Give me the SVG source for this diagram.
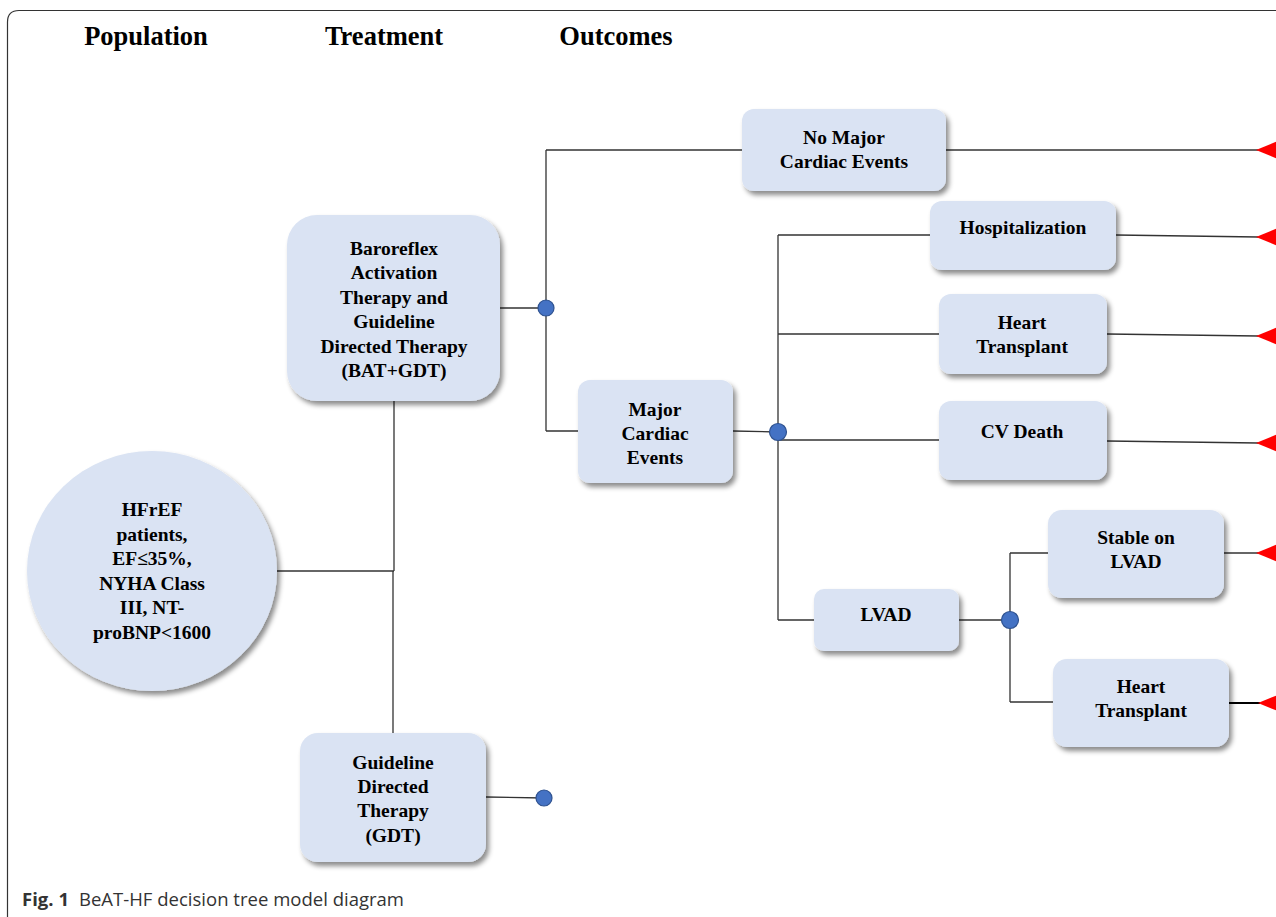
<svg xmlns="http://www.w3.org/2000/svg" width="1276" height="917" viewBox="0 0 1276 917">
<defs>
<filter id="sh" x="-20%" y="-20%" width="150%" height="150%">
<feDropShadow dx="3" dy="4" stdDeviation="2.5" flood-color="#000" flood-opacity="0.45"/>
</filter>
<style>
.box{fill:#dae3f3;filter:url(#sh);}
.t{font-family:"Liberation Serif","Times New Roman",serif;font-weight:bold;font-size:19.5px;fill:#000;text-anchor:middle;}
.h{font-family:"Liberation Serif","Times New Roman",serif;font-weight:bold;font-size:26.5px;fill:#000;text-anchor:middle;}
.ln{stroke:#333;stroke-width:1.3;fill:none;}
.ch{fill:#4472c4;stroke:#2f528f;stroke-width:1.2;}
.tri{fill:#ff0000;}
</style>
</defs>
<rect width="1276" height="917" fill="#fff"/>
<path d="M7.5,917 V22 Q7.5,10.5 19,10.5 H1276" fill="none" stroke="#333" stroke-width="1.2"/>

<g id="headers">
<text class="h" x="146" y="45">Population</text>
<text class="h" x="384" y="45">Treatment</text>
<text class="h" x="616" y="45">Outcomes</text>
</g>

<g id="connectors">
<path class="ln" d="M277,571 H394"/>
<path class="ln" d="M394,401 V571 M393,571 V733"/>
<path class="ln" d="M500,308 H546"/>
<path class="ln" d="M546,150 V431 M546,150 H742 M546,431 H578"/>
<path class="ln" d="M733,431 L778,432"/>
<path class="ln" d="M778,235 V620 M778,235 H930 M778,334 H939 M778,440 H939 M778,620 H814"/>
<path class="ln" d="M959,620 H1010"/>
<path class="ln" d="M1010,553 V702 M1010,553 H1048 M1010,702 H1053"/>
<path class="ln" d="M486,797 L544,798"/>
<path class="ln" d="M946,150 L1258,150"/>
<path class="ln" d="M1116,235 L1258,237"/>
<path class="ln" d="M1107,334 L1258,336"/>
<path class="ln" d="M1107,441 L1258,443"/>
<path class="ln" d="M1224,553 L1258,553"/>
<path d="M1229,703 L1260,703" stroke="#000" stroke-width="2" fill="none"/>
<polygon class="tri" points="1256,150 1278,141 1278,159"/>
<polygon class="tri" points="1256,237 1278,228 1278,246"/>
<polygon class="tri" points="1256,336 1278,327 1278,345"/>
<polygon class="tri" points="1256,443 1278,434 1278,452"/>
<polygon class="tri" points="1256,553 1278,544 1278,562"/>
<polygon class="tri" points="1258,703 1280,694 1280,712"/>
</g>

<g id="chance-nodes">
<circle class="ch" cx="546" cy="308" r="8"/>
<circle class="ch" cx="778" cy="432" r="8.5"/>
<circle class="ch" cx="1010" cy="620" r="8.5"/>
<circle class="ch" cx="544" cy="798" r="8"/>
</g>

<g id="population">
<ellipse class="box" cx="152" cy="571" rx="125" ry="120"/>
<text class="t" x="152" y="516">HFrEF</text>
<text class="t" x="152" y="541">patients,</text>
<text class="t" x="152" y="565">EF≤35%,</text>
<text class="t" x="152" y="590">NYHA Class</text>
<text class="t" x="152" y="614">III, NT-</text>
<text class="t" x="152" y="639">proBNP&lt;1600</text>
</g>

<g id="bat">
<rect class="box" x="287" y="215" width="213" height="186" rx="30"/>
<text class="t" x="394" y="255">Baroreflex</text>
<text class="t" x="394" y="279">Activation</text>
<text class="t" x="394" y="304">Therapy and</text>
<text class="t" x="394" y="328">Guideline</text>
<text class="t" x="394" y="353">Directed Therapy</text>
<text class="t" x="394" y="377">(BAT+GDT)</text>
</g>

<g id="gdt">
<rect class="box" x="300" y="733" width="186" height="129" rx="18"/>
<text class="t" x="393" y="769">Guideline</text>
<text class="t" x="393" y="793">Directed</text>
<text class="t" x="393" y="817">Therapy</text>
<text class="t" x="393" y="842">(GDT)</text>
</g>

<g id="no-major">
<rect class="box" x="742" y="109" width="204" height="82" rx="12"/>
<text class="t" x="844" y="144">No Major</text>
<text class="t" x="844" y="168">Cardiac Events</text>
</g>

<g id="major">
<rect class="box" x="578" y="380" width="155" height="103" rx="12"/>
<text class="t" x="655" y="416">Major</text>
<text class="t" x="655" y="440">Cardiac</text>
<text class="t" x="655" y="464">Events</text>
</g>

<g id="hospitalization">
<rect class="box" x="930" y="201" width="186" height="69" rx="12"/>
<text class="t" x="1023" y="234">Hospitalization</text>
</g>

<g id="heart-transplant-1">
<rect class="box" x="939" y="294" width="168" height="80" rx="12"/>
<text class="t" x="1022" y="329">Heart</text>
<text class="t" x="1022" y="353">Transplant</text>
</g>

<g id="cv-death">
<rect class="box" x="939" y="401" width="168" height="79" rx="12"/>
<text class="t" x="1022" y="438">CV Death</text>
</g>

<g id="lvad">
<rect class="box" x="814" y="589" width="145" height="62" rx="10"/>
<text class="t" x="886" y="621">LVAD</text>
</g>

<g id="stable-lvad">
<rect class="box" x="1048" y="510" width="176" height="88" rx="14"/>
<text class="t" x="1136" y="544">Stable on</text>
<text class="t" x="1136" y="568">LVAD</text>
</g>

<g id="heart-transplant-2">
<rect class="box" x="1053" y="659" width="176" height="88" rx="14"/>
<text class="t" x="1141" y="693">Heart</text>
<text class="t" x="1141" y="717">Transplant</text>
</g>

<g id="caption">
<text x="22" y="906" font-family="'Open Sans','Noto Sans',sans-serif" font-size="18.5px" fill="#333" textLength="382" lengthAdjust="spacing"><tspan font-weight="bold">Fig. 1</tspan><tspan dx="10">BeAT-HF decision tree model diagram</tspan></text>
</g>
</svg>
